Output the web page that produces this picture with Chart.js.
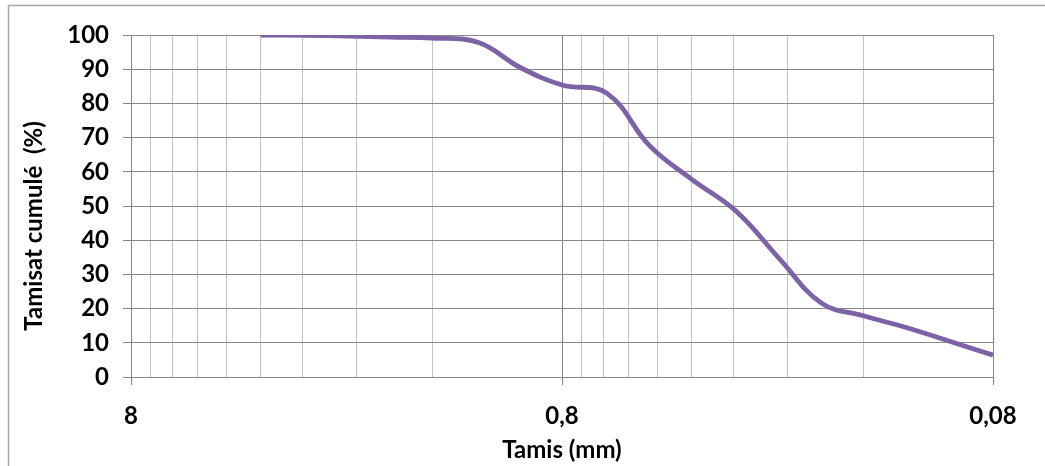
<!DOCTYPE html>
<html>
<head>
<meta charset="utf-8">
<script src="https://cdn.jsdelivr.net/npm/chart.js@4.4.1/dist/chart.umd.min.js"></script>
<style>
  html, body { margin: 0; padding: 0; background: #fff; }
  #wrap { width: 1045px; height: 466px; position: relative; }
</style>
</head>
<body>
<div id="wrap"><canvas id="granulo"></canvas></div>
<script>
// sieve openings (mm) and cumulative passing (%)
var sieveSizes = [4, 3.15, 2.5, 2, 1.6, 1.25, 1, 0.8, 0.63, 0.5, 0.4, 0.315, 0.25, 0.2, 0.16, 0.125, 0.1, 0.08];
var passing    = [100, 99.9, 99.7, 99.4, 99.1, 97.8, 90.5, 85.4, 83, 67.5, 57.8, 48.4, 34.5, 21.6, 17.9, 14.2, 10.3, 6.4];

// log axis ticks, Excel style
var majorTicks  = [8, 0.8, 0.08];
var majorLabels = ['8', '0,8', '0,08'];
var minorTicks  = [7.2, 6.4, 5.6, 4.8, 4, 3.2, 2.4, 1.6, 0.72, 0.64, 0.56, 0.48, 0.4, 0.32, 0.24, 0.16];
var yTicks = [0, 10, 20, 30, 40, 50, 60, 70, 80, 90, 100];

var xTitle = 'Tamis (mm)';
var yTitle = 'Tamisat cumulé  (%)';

var font = 'Lato, "Open Sans", sans-serif';
var majorGrid = '#878787';
var minorGrid = '#c2c2c2';
var lineColor = '#7e62a6';

function isMajor(v) { return majorTicks.indexOf(v) !== -1; }

var points = sieveSizes.map(function(s, i) { return { x: s, y: passing[i] }; });

new Chart(document.getElementById('granulo'), {
  type: 'line',
  data: {
    datasets: [{
      data: points,
      borderColor: lineColor,
      borderWidth: 4.8,
      pointRadius: 0,
      tension: 0.4,
      fill: false
    }]
  },
  options: {
    responsive: true,
    maintainAspectRatio: false,
    animation: false,
    layout: { padding: { top: 35, right: 52, left: 0, bottom: 0 } },
    plugins: { legend: { display: false }, tooltip: { enabled: false } },
    scales: {
      x: {
        type: 'logarithmic',
        reverse: true,
        min: 0.08,
        max: 8,
        afterBuildTicks: function(axis) {
          axis.ticks = majorTicks.concat(minorTicks).sort(function(a, b) { return a - b; })
            .map(function(v) { return { value: v }; });
        },
        afterFit: function(scale) { scale.height = 89; },
        grid: {
          color: function(c) { return c.tick && isMajor(c.tick.value) ? majorGrid : minorGrid; },
          tickColor: function(c) { return c.tick && isMajor(c.tick.value) ? majorGrid : 'rgba(0,0,0,0)'; },
          tickLength: 8,
          lineWidth: 1
        },
        border: { color: majorGrid, width: 1 },
        ticks: {
          autoSkip: false,
          maxRotation: 0,
          padding: 17,
          color: '#000',
          font: { family: font, size: 24, weight: 'bold' },
          callback: function(value) {
            var i = majorTicks.indexOf(value);
            return i !== -1 ? majorLabels[i] : '';
          }
        },
        title: {
          display: true,
          text: xTitle,
          color: '#000',
          font: { family: font, size: 24, weight: 'bold' },
          padding: { top: 0, bottom: 1 }
        }
      },
      y: {
        min: 0,
        max: 100,
        afterBuildTicks: function(axis) {
          axis.ticks = yTicks.map(function(v) { return { value: v }; });
        },
        afterFit: function(scale) { scale.width = 131; },
        grid: { color: majorGrid, tickColor: majorGrid, tickLength: 8, lineWidth: 1 },
        border: { color: majorGrid, width: 1 },
        ticks: {
          padding: 14,
          color: '#000',
          font: { family: font, size: 24, weight: 'bold' }
        }
      }
    }
  },
  plugins: [{
    id: 'frameAndTitle',
    beforeDraw: function(chart) {
      var c = chart.ctx;
      c.save();
      c.strokeStyle = '#a6a6a6';
      c.lineWidth = 1.5;
      c.strokeRect(8.5, 5.5, chart.width + 20, chart.height + 20);
      c.restore();
    },
    afterDraw: function(chart) {
      // y axis title, placed a little below the plot centre as in the original
      var c = chart.ctx;
      c.save();
      c.translate(34, 226);
      c.rotate(-Math.PI / 2);
      c.font = 'bold 24px ' + font;
      c.fillStyle = '#000';
      c.textAlign = 'center';
      c.textBaseline = 'middle';
      c.fillText(yTitle, 0, 0);
      c.restore();
    }
  }]
});
</script>
</body>
</html>
